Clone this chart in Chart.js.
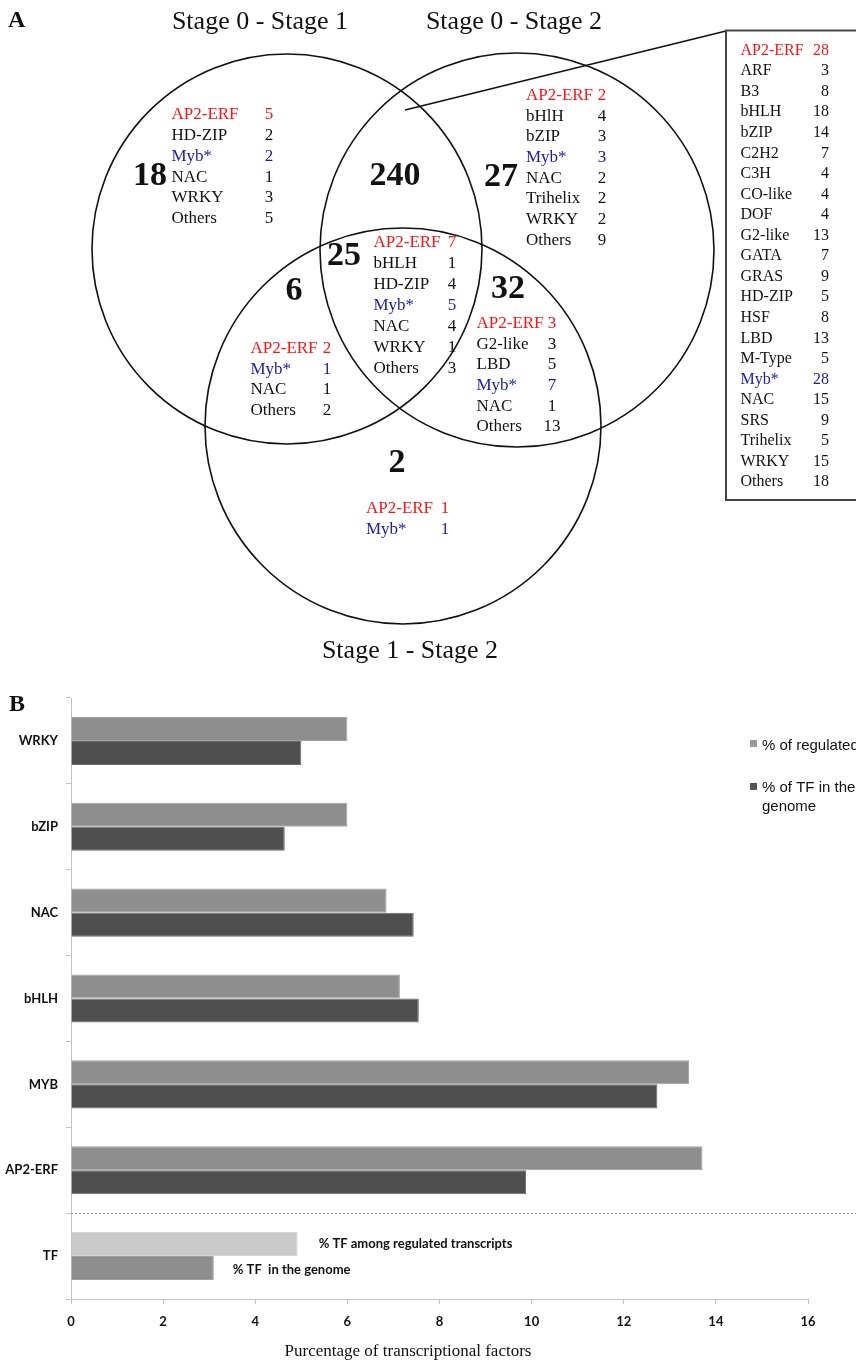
<!DOCTYPE html>
<html>
<head>
<meta charset="utf-8">
<script src="https://cdn.jsdelivr.net/npm/chart.js@4/dist/chart.umd.min.js"></script>
<style>
  html, body { margin: 0; padding: 0; background: #fff; overflow: hidden; }
  canvas { display: block; }
</style>
</head>
<body>
<canvas id="venn" width="856" height="668"></canvas>
<canvas id="bars" width="856" height="694"></canvas>
<script>
// ---------- Panel A: Venn diagram of regulated TF families ----------
const setTitles = ['Stage 0 - Stage 1', 'Stage 0 - Stage 2', 'Stage 1 - Stage 2'];

// Region totals: only 0-1, 0-1 & 0-2, only 0-2, all three, 0-1 & 1-2, 0-2 & 1-2, only 1-2
const regionTotals = [18, 240, 27, 25, 6, 32, 2];

const only01Families = ['AP2-ERF', 'HD-ZIP', 'Myb*', 'NAC', 'WRKY', 'Others'];
const only01Counts   = [5, 2, 2, 1, 3, 5];

const only02Families = ['AP2-ERF', 'bHlH', 'bZIP', 'Myb*', 'NAC', 'Trihelix', 'WRKY', 'Others'];
const only02Counts   = [2, 4, 3, 3, 2, 2, 2, 9];

const allThreeFamilies = ['AP2-ERF', 'bHLH', 'HD-ZIP', 'Myb*', 'NAC', 'WRKY', 'Others'];
const allThreeCounts   = [7, 1, 4, 5, 4, 1, 3];

const s01s12Families = ['AP2-ERF', 'Myb*', 'NAC', 'Others'];
const s01s12Counts   = [2, 1, 1, 2];

const s02s12Families = ['AP2-ERF', 'G2-like', 'LBD', 'Myb*', 'NAC', 'Others'];
const s02s12Counts   = [3, 3, 5, 7, 1, 13];

const only12Families = ['AP2-ERF', 'Myb*'];
const only12Counts   = [1, 1];

const s01s02Families = ['AP2-ERF', 'ARF', 'B3', 'bHLH', 'bZIP', 'C2H2', 'C3H', 'CO-like', 'DOF',
  'G2-like', 'GATA', 'GRAS', 'HD-ZIP', 'HSF', 'LBD', 'M-Type', 'Myb*', 'NAC', 'SRS',
  'Trihelix', 'WRKY', 'Others'];
const s01s02Counts = [28, 3, 8, 18, 14, 7, 4, 4, 4, 13, 7, 9, 5, 8, 13, 5, 28, 15, 9, 5, 15, 18];

// ---------- Panel B: share of TF families ----------
const families     = ['WRKY', 'bZIP', 'NAC', 'bHLH', 'MYB', 'AP2-ERF', 'TF'];
const pctRegulated = [6.0, 6.0, 6.85, 7.14, 13.42, 13.71, 4.92];
const pctGenome    = [5.0, 4.64, 7.44, 7.55, 12.73, 9.88, 3.10];
const seriesNames  = ['% of regulated', '% of TF in the genome'];

// ---------- layout & style ----------
const SERIF = '"Liberation Serif", "Times New Roman", serif';
const RED = '#ff1414';
const BLUE = '#1c1ca6';
const INK = '#111';

const circleLayout = [
  { cx: 287, cy: 249, r: 195 },
  { cx: 517, cy: 250, r: 197 },
  { cx: 403, cy: 426, r: 198 }
];
const titleLayout = [
  { x: 260, y: 22 }, { x: 514, y: 22 }, { x: 410, y: 651 }
];
const totalLayout = [
  { x: 150, y: 176 }, { x: 395, y: 176 }, { x: 501, y: 177 },
  { x: 344, y: 256 }, { x: 294, y: 291 }, { x: 508, y: 289 }, { x: 397, y: 463 }
];
const listLayout = [
  { names: only01Families,   counts: only01Counts,   x: 171.5, vx: 269, y: 115,   dy: 20.7 },
  { names: only02Families,   counts: only02Counts,   x: 526,   vx: 602, y: 95.5,  dy: 20.65 },
  { names: allThreeFamilies, counts: allThreeCounts, x: 373.5, vx: 452, y: 243,   dy: 20.85 },
  { names: s01s12Families,   counts: s01s12Counts,   x: 250.5, vx: 327, y: 349,   dy: 20.4 },
  { names: s02s12Families,   counts: s02s12Counts,   x: 476.5, vx: 552, y: 323.5, dy: 20.7 },
  { names: only12Families,   counts: only12Counts,   x: 366,   vx: 445, y: 508.5, dy: 21 }
];
const boxLayout = { left: 726, top: 30.5, right: 900, bottom: 500, x: 740.5, vx: 829, y: 50.5, dy: 20.56 };
const callout = [{ x: 405, y: 110 }, { x: 726, y: 31 }];

function familyColor(name) {
  if (name === 'AP2-ERF') return RED;
  if (name === 'Myb*') return BLUE;
  return INK;
}

const vennText = {
  id: 'vennText',
  afterDatasetsDraw(chart) {
    const { ctx, scales: { x, y } } = chart;
    const px = v => x.getPixelForValue(v);
    const py = v => y.getPixelForValue(v);
    ctx.save();
    ctx.textBaseline = 'middle';

    // panel letter
    ctx.fillStyle = INK;
    ctx.font = 'bold 24px ' + SERIF;
    ctx.textAlign = 'left';
    ctx.fillText('A', 8, 21);

    // set titles
    ctx.font = '26px ' + SERIF;
    ctx.textAlign = 'center';
    setTitles.forEach((t, i) => ctx.fillText(t, px(titleLayout[i].x), py(titleLayout[i].y)));

    // region totals
    ctx.font = 'bold 34px ' + SERIF;
    regionTotals.forEach((n, i) => ctx.fillText(String(n), px(totalLayout[i].x), py(totalLayout[i].y)));

    // family lists inside the circles
    ctx.font = '17px ' + SERIF;
    listLayout.forEach(g => {
      g.names.forEach((name, i) => {
        const yy = py(g.y + i * g.dy);
        ctx.fillStyle = familyColor(name);
        ctx.textAlign = 'left';
        ctx.fillText(name, px(g.x), yy);
        ctx.textAlign = 'center';
        ctx.fillText(String(g.counts[i]), px(g.vx), yy);
      });
    });

    // callout box for the Stage 0-1 / Stage 0-2 overlap
    ctx.strokeStyle = '#444';
    ctx.lineWidth = 2;
    ctx.strokeRect(px(boxLayout.left), py(boxLayout.top),
      px(boxLayout.right) - px(boxLayout.left), py(boxLayout.bottom) - py(boxLayout.top));
    ctx.font = '16px ' + SERIF;
    s01s02Families.forEach((name, i) => {
      const yy = py(boxLayout.y + i * boxLayout.dy);
      ctx.fillStyle = familyColor(name);
      ctx.textAlign = 'left';
      ctx.fillText(name, px(boxLayout.x), yy);
      ctx.textAlign = 'right';
      ctx.fillText(String(s01s02Counts[i]), px(boxLayout.vx), yy);
    });
    ctx.restore();
  }
};

new Chart(document.getElementById('venn'), {
  type: 'bubble',
  data: {
    datasets: [
      {
        data: circleLayout.map(c => ({ x: c.cx, y: c.cy, r: c.r })),
        backgroundColor: 'rgba(0,0,0,0)',
        borderColor: INK,
        borderWidth: 1.6,
        hoverBorderWidth: 1.6,
        clip: false
      },
      {
        type: 'line',
        data: callout,
        borderColor: INK,
        borderWidth: 1.6,
        pointRadius: 0,
        fill: false,
        clip: false
      }
    ]
  },
  options: {
    responsive: false,
    animation: false,
    events: [],
    layout: { padding: 0, autoPadding: false },
    plugins: { legend: { display: false }, tooltip: { enabled: false } },
    scales: {
      x: { type: 'linear', min: 0, max: 856, display: false },
      y: { type: 'linear', min: 0, max: 668, reverse: true, display: false }
    }
  },
  plugins: [vennText]
});

// ---------- bar chart ----------
const SANS_B = 'Lato, "Open Sans", sans-serif';
const AXIS_GREY = '#c2c2c2';

const barExtras = {
  id: 'barExtras',
  afterDatasetsDraw(chart) {
    const { ctx, chartArea, scales: { x, y } } = chart;
    ctx.save();

    // separator between families and the overall TF row
    const sepY = (y.getPixelForValue(5) + y.getPixelForValue(6)) / 2;
    ctx.strokeStyle = '#9a9a9a';
    ctx.lineWidth = 1;
    ctx.setLineDash([2, 2]);
    ctx.beginPath();
    ctx.moveTo(chartArea.left, Math.round(sepY) + 0.5);
    ctx.lineTo(chart.width, Math.round(sepY) + 0.5);
    ctx.stroke();
    ctx.setLineDash([]);

    // labels beside the TF bars
    const tfIndex = families.indexOf('TF');
    const m0 = chart.getDatasetMeta(0).data[tfIndex];
    const m1 = chart.getDatasetMeta(1).data[tfIndex];
    ctx.fillStyle = INK;
    ctx.font = 'bold 13px ' + SANS_B;
    ctx.textAlign = 'left';
    ctx.textBaseline = 'middle';
    ctx.fillText('% TF among regulated transcripts', x.getPixelForValue(pctRegulated[tfIndex]) + 21, m0.y);
    ctx.fillText('% TF  in the genome', x.getPixelForValue(pctGenome[tfIndex]) + 19, m1.y + 2);

    // legend
    ctx.font = '15px "Liberation Sans", Arial, sans-serif';
    ctx.fillStyle = '#9a9a9a';
    ctx.fillRect(750, 72, 7, 7);
    ctx.fillStyle = '#555';
    ctx.fillRect(750, 115, 7, 7);
    ctx.fillStyle = INK;
    ctx.fillText(seriesNames[0], 762, 78);
    ctx.fillText('% of TF in the', 762, 120);
    ctx.fillText('genome', 762, 139);

    // axis title
    ctx.font = '17px ' + SERIF;
    ctx.textAlign = 'center';
    ctx.fillText('Purcentage of transcriptional factors', 408, 684);

    // panel letter
    ctx.font = 'bold 24px ' + SERIF;
    ctx.textAlign = 'left';
    ctx.fillText('B', 9, 37);
    ctx.restore();
  }
};

new Chart(document.getElementById('bars'), {
  type: 'bar',
  data: {
    labels: families,
    datasets: [
      {
        label: seriesNames[0],
        data: pctRegulated,
        backgroundColor: families.map(f => f === 'TF' ? '#cacaca' : '#8e8e8e'),
        borderColor: families.map(f => f === 'TF' ? '#d4d4d4' : '#a0a0a0'),
        borderWidth: 1,
        borderSkipped: 'start',
        categoryPercentage: 0.56,
        barPercentage: 1.0
      },
      {
        label: seriesNames[1],
        data: pctGenome,
        backgroundColor: families.map(f => f === 'TF' ? '#8e8e8e' : '#4f4f4f'),
        borderColor: families.map(f => f === 'TF' ? '#a0a0a0' : '#6a6a6a'),
        borderWidth: 1,
        borderSkipped: 'start',
        categoryPercentage: 0.56,
        barPercentage: 1.0
      }
    ]
  },
  options: {
    indexAxis: 'y',
    responsive: false,
    animation: false,
    events: [],
    layout: { padding: { left: 0, right: 48, top: 30, bottom: 0 } },
    plugins: { legend: { display: false }, tooltip: { enabled: false } },
    scales: {
      x: {
        min: 0, max: 16,
        ticks: { stepSize: 2, color: INK, padding: 10, font: { family: SANS_B, weight: 'bold', size: 13 } },
        grid: { drawOnChartArea: false, tickLength: 5, color: AXIS_GREY },
        border: { color: AXIS_GREY, width: 1 },
        afterFit: s => { s.height = 63; }
      },
      y: {
        ticks: { color: INK, padding: 8, font: { family: SANS_B, weight: 'bold', size: 13 } },
        grid: { drawOnChartArea: false, tickLength: 5, color: AXIS_GREY, offset: true },
        border: { color: AXIS_GREY, width: 1 },
        afterFit: s => { s.width = 71; }
      }
    }
  },
  plugins: [barExtras]
});
</script>
</body>
</html>
